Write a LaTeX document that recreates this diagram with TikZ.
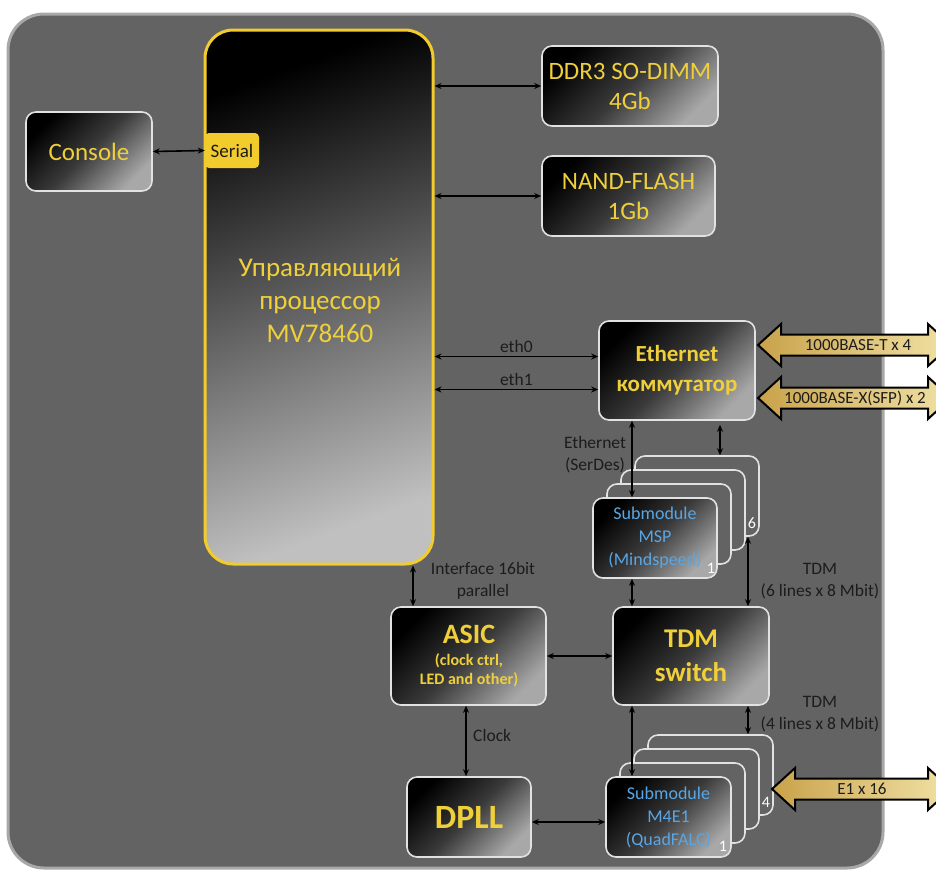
\documentclass[tikz,border=0pt]{standalone}
\usepackage{fontspec}
\setmainfont{Carlito}
\usetikzlibrary{arrows.meta,calc}
\definecolor{panel}{HTML}{636363}
\definecolor{panelrim}{HTML}{A8A8A8}
\definecolor{yel}{HTML}{F2CB2C}
\definecolor{ytext}{HTML}{F0D03A}
\definecolor{rim}{HTML}{E2E2E2}
\definecolor{blu}{HTML}{5AA6E4}
\definecolor{lbl}{HTML}{1C1C1C}
\definecolor{shadelight}{HTML}{A8A8A8}
\definecolor{shademid}{HTML}{3A3A3A}
\definecolor{procl}{HTML}{C0C0C0}
\definecolor{golddark}{HTML}{C9A24A}
\definecolor{goldlight}{HTML}{F1E2A6}
\newcommand{\fs}[2]{\fontsize{#1}{#2}\selectfont}
\begin{document}
\begin{tikzpicture}[x=1pt,y=-1pt,
  box/.style={draw=rim, line width=1.6pt, rounded corners=10pt,
    top color=black, bottom color=shadelight, middle color=shademid, shading angle=45,
    inner sep=0pt, align=center, text=ytext},
  backbox/.style={draw=rim, line width=1.6pt, rounded corners=10pt, fill=panel,
    minimum width=124pt, minimum height=80pt},
  conn/.style={line width=1.6pt, draw=black,
    arrows={Stealth[length=7pt,width=6pt]-Stealth[length=7pt,width=6pt]}},
  lab/.style={text=lbl, font=\fs{17.5}{22}, align=center, inner sep=0pt},
  num/.style={text=white, font=\fs{16}{16}, inner sep=0pt},
  bigarr/.style={draw=black, line width=2pt, left color=golddark, right color=goldlight, line join=miter},
  arrlab/.style={text=lbl, font=\fs{17}{18}, inner sep=0pt}
]
\useasboundingbox (0,0) rectangle (936,870);
\clip (0,0) rectangle (936,870);
\fill[white] (0,0) rectangle (936,870);

% panel
\draw[panelrim, line width=3pt, fill=panel, rounded corners=36pt] (8,14) rectangle (883,868);

% processor
\node[draw=yel, line width=3pt, rounded corners=28pt, top color=black, bottom color=procl,
  shading angle=20, minimum width=228pt, minimum height=534pt, inner sep=0pt] (proc) at (319,297) {};
\node[text=ytext, font=\fs{27}{33}, align=center] (proctxt) at (320,300) {Управляющий\\процессор\\MV78460};
\node[fill=yel, rounded corners=4pt, minimum width=54pt, minimum height=35pt, inner sep=0pt,
  text=lbl, font=\fs{19}{19}] (serial) at (232,150.5) {Serial};

% console, memory
\node[box, minimum width=126pt, minimum height=79pt, font=\fs{25}{25}] (console) at (89,151.5) {Console};
\node[box, minimum width=176pt, minimum height=80pt, font=\fs{25}{30}] (ddr) at (630,86) {DDR3 SO-DIMM\\4Gb};
\node[box, minimum width=173pt, minimum height=80pt, font=\fs{25}{30}] (nand) at (628.5,196) {NAND-FLASH\\1Gb};

% ethernet switch
\node[box, minimum width=156pt, minimum height=99pt, font=\bfseries\fs{23}{30}] (eth) at (677,370.5) {Ethernet\\коммутатор};

% MSP stack
\node[backbox] (msp4) at (697,496) {};
\node[backbox] (msp3) at (683,510) {};
\node[backbox] (msp2) at (669,524) {};
\node[box, minimum width=124pt, minimum height=80pt, text=blu, font=\fs{18}{23}] (msp1) at (655,538) {Submodule\\MSP\\(Mindspeed)};
\node[num] (n6) at (752,523) {6};
\node[num] (n1a) at (711,568) {1};

% TDM switch, ASIC, DPLL
\node[box, minimum width=156pt, minimum height=98pt, font=\bfseries\fs{27}{34}] (tdm) at (691,656) {TDM\\switch};
\node[box, minimum width=155pt, minimum height=98pt] (asic) at (468.5,656) {};
\node[text=ytext, font=\bfseries\fs{28}{28}, inner sep=0pt] (asict) at (469,634) {ASIC};
\node[text=ytext, font=\bfseries\fs{16}{19}, align=center, inner sep=0pt] (asics) at (469,670) {(clock ctrl,\\LED and other)};
\node[box, minimum width=124pt, minimum height=80pt, font=\bfseries\fs{34}{34}] (dpll) at (469,817) {DPLL};

% M4E1 stack
\node[backbox, minimum width=125pt] (m44) at (710.5,775) {};
\node[backbox, minimum width=125pt] (m43) at (696.5,789) {};
\node[backbox, minimum width=125pt] (m42) at (682.5,803) {};
\node[box, minimum width=125pt, minimum height=80pt, text=blu, font=\fs{18}{23}] (m41) at (668.5,817) {Submodule\\M4E1\\(QuadFALC)};
\node[num] (n4) at (766,802) {4};
\node[num] (n1b) at (723,846) {1};

% helper coordinates
\coordinate (xa) at (632,0);
\coordinate (xb) at (720,0);
\coordinate (xc) at (748,0);
\coordinate (xd) at (413,0);
\coordinate (xe) at (466,0);
\coordinate (eth0c) at ([yshift=14pt]eth.west);
\coordinate (eth1c) at ([yshift=-19pt]eth.west);
\coordinate (dpc) at ([yshift=-5pt]dpll.east);

% connectors
\draw[conn] (console.east) -- (serial.west);
\draw[conn] (proc.east |- ddr.west) -- (ddr.west);
\draw[conn] (proc.east |- nand.west) -- (nand.west);
\draw[conn] (proc.east |- eth0c) -- node[lab, above=3pt] (l0) {eth0} (eth0c);
\draw[conn] (proc.east |- eth1c) -- node[lab, above=3pt] (l1) {eth1} (eth1c);
\draw[conn] (eth.south -| xa) -- (msp1.north -| xa);
\draw[conn] ([yshift=-4pt]eth.south -| xb) -- (msp4.north -| xb);
\draw[conn] (msp1.south -| xa) -- (tdm.north -| xa);
\draw[conn] (msp4.south -| xc) -- (tdm.north -| xc);
\draw[conn] (tdm.south -| xa) -- (m41.north -| xa);
\draw[conn] (tdm.south -| xc) -- (m44.north -| xc);
\draw[conn] (asic.east) -- (tdm.west);
\draw[conn] (proc.south -| xd) -- (asic.north -| xd);
\draw[conn] (asic.south -| xe) -- (dpll.north -| xe);
\draw[conn] (dpc) -- (m41.west |- dpc);

% labels
\node[lab] (lser) at (595,455) {Ethernet\\(SerDes)};
\node[lab] (lif) at (483,581) {Interface 16bit\\parallel};
\node[lab] (ltdm6) at (820,581) {TDM\\(6 lines x 8 Mbit)};
\node[lab] (ltdm4) at (820,714) {TDM\\(4 lines x 8 Mbit)};
\node[lab, anchor=west] (lclk) at (473,735) {Clock};

% big external arrows
\draw[bigarr] (758,345) -- (781,324) -- (781,334.5) -- (928,334.5) -- (928,324) -- (951,345)
  -- (928,366) -- (928,355.5) -- (781,355.5) -- (781,366) -- cycle;
\node[arrlab] (a1) at (858,345) {1000BASE-T x 4};
\draw[bigarr] (758,398) -- (781,377) -- (781,387.5) -- (928,387.5) -- (928,377) -- (951,398)
  -- (928,419) -- (928,408.5) -- (781,408.5) -- (781,419) -- cycle;
\node[arrlab] (a2) at (855,398) {1000BASE-X(SFP) x 2};
\draw[bigarr] (772,789) -- (795,768) -- (795,778.5) -- (928,778.5) -- (928,768) -- (951,789)
  -- (928,810) -- (928,799.5) -- (795,799.5) -- (795,810) -- cycle;
\node[arrlab] (a3) at (862,789) {E1 x 16};
\end{tikzpicture}
\end{document}
